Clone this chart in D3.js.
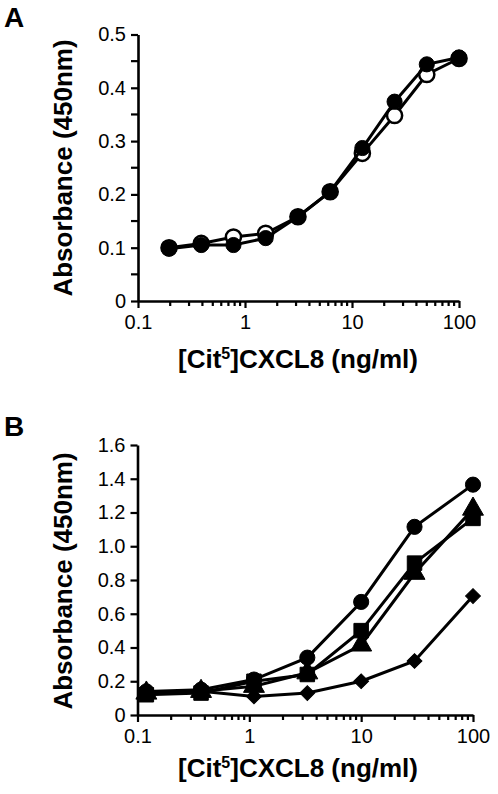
<!DOCTYPE html>
<html><head><meta charset="utf-8">
<script src="https://cdn.jsdelivr.net/npm/d3@7"></script>
<style>body{margin:0;background:#fff}svg{display:block}text{font-family:"Liberation Sans",Arial,sans-serif;fill:#000}</style>
</head><body>
<script>
// Panel A data
const concA = [0.195, 0.39, 0.78, 1.56, 3.125, 6.25, 12.5, 25, 50, 100];
const openA = [0.100, 0.108, 0.120, 0.127, 0.158, 0.205, 0.277, 0.348, 0.425, 0.455];
const filledA = [0.098, 0.105, 0.105, 0.118, 0.158, 0.205, 0.287, 0.374, 0.444, 0.457];
const yTicksA = [0, 0.1, 0.2, 0.3, 0.4, 0.5];
// Panel B data
const concB = [0.12, 0.37, 1.1, 3.3, 10, 30, 100];
const circleB = [0.14, 0.15, 0.21, 0.34, 0.67, 1.115, 1.365];
const squareB = [0.12, 0.13, 0.20, 0.24, 0.50, 0.90, 1.165];
const triangleB = [0.13, 0.14, 0.17, 0.25, 0.415, 0.84, 1.22];
const diamondB = [0.13, 0.14, 0.11, 0.13, 0.20, 0.32, 0.705];
const yTicksB = [0, 0.2, 0.4, 0.6, 0.8, 1.0, 1.2, 1.4, 1.6];
const xTickLabels = [0.1, 1, 10, 100];
const xTitle = ["[Cit", "5", "]CXCL8 (ng/ml)"];
const yTitle = "Absorbance (450nm)";

const svg = d3.select("body").append("svg").attr("width", 498).attr("height", 794);

function fmt(v){ return v === 0 ? "0" : v.toFixed(1); }

function panel(cfg){
  const g = svg.append("g");
  const x = d3.scaleLog().domain([0.1, 100]).range(cfg.xr);
  const y = d3.scaleLinear().domain(cfg.yd).range(cfg.yr);
  const minor = [];
  [0.1, 1, 10].forEach(d => { for (let k = 2; k <= 9; k++) minor.push(d * k); });
  const xAxis = d3.axisBottom(x).tickValues(xTickLabels).tickFormat(d => String(d)).tickSize(7).tickSizeOuter(0).tickPadding(7);
  const gx = g.append("g").attr("transform", `translate(0,${cfg.yr[0]})`).call(xAxis);
  gx.append("g").selectAll("line").data(minor).join("line")
    .attr("x1", d => x(d)).attr("x2", d => x(d)).attr("y1", 0).attr("y2", 5)
    .attr("stroke", "#000").attr("stroke-width", 2.2);
  const yAxis = d3.axisLeft(y).tickValues(cfg.yTicks).tickFormat(fmt).tickSize(7).tickSizeOuter(0).tickPadding(5);
  const gy = g.append("g").attr("transform", `translate(${cfg.xr[0]},0)`).call(yAxis);
  if (cfg.yMinor) {
    gy.append("g").selectAll("line").data(cfg.yMinor).join("line")
      .attr("y1", d => y(d)).attr("y2", d => y(d)).attr("x1", 0).attr("x2", -7)
      .attr("stroke", "#000").attr("stroke-width", 2.2);
  }
  [gx, gy].forEach(a => {
    a.select(".domain").attr("stroke-width", 2.6);
    a.selectAll(".tick line").attr("stroke-width", 2.2);
    a.selectAll(".tick text").attr("font-size", 20).attr("font-family", "Liberation Sans, Arial, sans-serif");
  });
  gx.selectAll(".tick text").attr("dy", "0.72em");
  const xt = g.append("text").attr("x", cfg.xTitlePos[0]).attr("y", cfg.xTitlePos[1])
    .attr("text-anchor", "middle").attr("font-size", 26).attr("font-weight", "bold");
  xt.append("tspan").text(xTitle[0]);
  xt.append("tspan").text(xTitle[1]).attr("font-size", 16).attr("dy", -9);
  xt.append("tspan").text(xTitle[2]).attr("dy", 9);
  g.append("text").attr("transform", `translate(${cfg.yTitlePos[0]},${cfg.yTitlePos[1]}) rotate(-90)`)
    .attr("text-anchor", "middle").attr("font-size", 26).attr("font-weight", "bold").text(yTitle);
  g.append("text").attr("x", 4).attr("y", cfg.labelY).attr("font-size", 28).attr("font-weight", "bold").text(cfg.label);
  return {g, x, y};
}

function series(p, xs, ys, shape, filled){
  const line = d3.line().x((d, i) => p.x(xs[i])).y(d => p.y(d));
  p.g.append("path").datum(ys).attr("d", line).attr("fill", "none").attr("stroke", "#000").attr("stroke-width", 3);
  const sym = {circle: d3.symbolCircle, square: d3.symbolSquare, triangle: d3.symbolTriangle, diamond: d3.symbolSquare}[shape];
  const size = {circle: 180, square: 210, triangle: 190, diamond: 110}[shape];
  const rot = shape === "diamond" ? 45 : 0;
  p.g.append("g").selectAll("path").data(ys).join("path")
    .attr("transform", (d, i) => `translate(${p.x(xs[i])},${p.y(d)}) rotate(${rot})`)
    .attr("d", d3.symbol().type(sym).size(size))
    .attr("fill", filled ? "#000" : "#fff").attr("stroke", "#000").attr("stroke-width", filled ? 1 : 2.5);
}

const pA = panel({xr: [138, 459], yr: [301, 34.5], yd: [0, 0.5], yTicks: yTicksA,
  yMinor: [0.05, 0.15, 0.25, 0.35, 0.45], xTitlePos: [298, 368], yTitlePos: [72, 168], label: "A", labelY: 27});
series(pA, concA, openA, "circle", false);
series(pA, concA, filledA, "circle", true);

const pB = panel({xr: [137.5, 473], yr: [715, 445], yd: [0, 1.6], yTicks: yTicksB,
  yMinor: null, xTitlePos: [298, 777], yTitlePos: [72, 581], label: "B", labelY: 436});
series(pB, concB, diamondB, "diamond", true);
series(pB, concB, triangleB, "triangle", true);
series(pB, concB, squareB, "square", true);
series(pB, concB, circleB, "circle", true);
</script>
</body></html>
